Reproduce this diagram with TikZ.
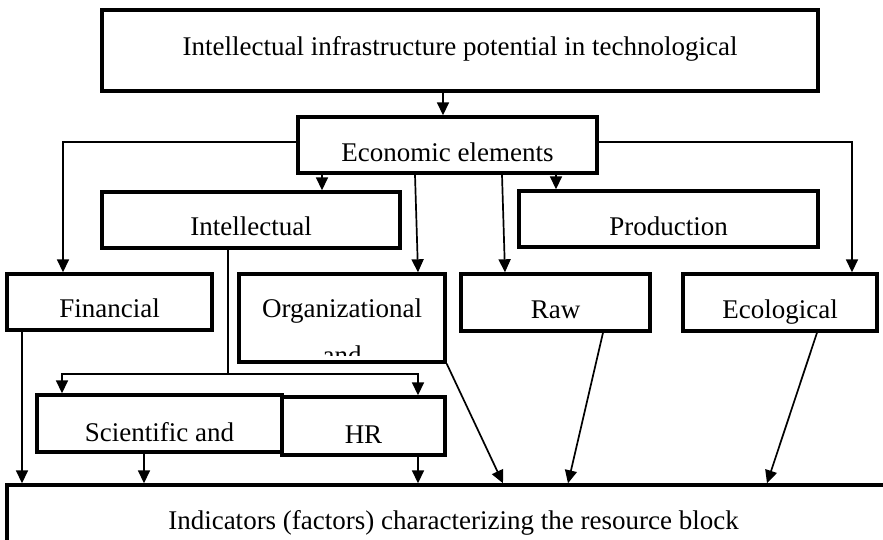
\documentclass[tikz,border=0pt]{standalone}
\usepackage{fontspec}
\setmainfont{Liberation Serif}
\usepackage{tikz}
\usetikzlibrary{arrows.meta}

\begin{document}
\begin{tikzpicture}[
  x=1pt, y=-1pt,
  font=\fontsize{27}{31}\selectfont,
  box/.style={draw, line width=3.4pt, inner sep=0pt},
  tb/.style={text height=#1, text depth=0pt},
  ln/.style={line width=1.7pt},
  arr/.style={ln, -{Triangle[length=13pt, width=12pt]}}
]
\useasboundingbox (0,0) rectangle (883,540);
\fill[white] (0,0) rectangle (883,540);
\clip (0,0) rectangle (883,540);
% boxes
\node[box, minimum width=716pt, minimum height=81pt, tb=11pt] (top) at (460,50.5) {Intellectual infrastructure potential in technological};
\node[box, minimum width=299pt, minimum height=56pt, tb=34pt] (econ) at (447.5,145) {Economic elements};
\node[box, minimum width=298pt, minimum height=56pt, tb=32pt] (intel) at (251,220) {Intellectual};
\node[box, minimum width=299pt, minimum height=56pt, tb=34pt] (prod) at (668.5,219) {Production};
\node[box, minimum width=205pt, minimum height=56pt, tb=30pt] (fin) at (109.5,302) {Financial};
\node[box, minimum width=206pt, minimum height=88pt, text height=0pt, text depth=2pt] (org) at (342,318) {Organizational};
\node[box, minimum width=189pt, minimum height=57pt, tb=31pt] (raw) at (555.5,302.5) {Raw};
\node[box, minimum width=194pt, minimum height=57pt, tb=31pt] (eco) at (780,302.5) {Ecological};
\node[box, minimum width=245pt, minimum height=57pt, tb=35pt] (sci) at (159.5,423.5) {Scientific and};
\node[box, minimum width=163pt, minimum height=58pt, tb=34pt] (hr) at (363.5,426) {HR};
\node[box, minimum width=893pt, minimum height=86pt, tb=2pt] (res) at (453.5,528) {Indicators (factors) characterizing the resource block};
\begin{scope}
  \clip (241,340) rectangle (443,355);
  \node[anchor=base] (organd) at (342,364) {and};
\end{scope}
% connectors
\draw[arr] (top.south -| 443,0) -- (econ.north -| 443,0);
\draw[arr] ([yshift=3pt]econ.west) -| (fin.north -| 63,0);
\draw[arr] ([yshift=3pt]econ.east) -| (eco.north -| 852,0);
\draw[arr] (econ.south -| 322,0) -- (intel.north -| 322,0);
\draw[arr] (econ.south -| 415,0) -- (org.north -| 418,0);
\draw[arr] (econ.south -| 502,0) -- (raw.north -| 505,0);
\draw[arr] (econ.south -| 556,0) -- (prod.north -| 556,0);
\coordinate (split) at (228,374);
\draw[ln] (intel.south -| split) -- (split);
\draw[arr] (split) -| (sci.north -| 62,0);
\draw[arr] (split) -| (hr.north -| 418,0);
\draw[arr] (fin.south -| 22,0) -- (res.north -| 22,0);
\draw[arr] (sci.south -| 144,0) -- (res.north -| 144,0);
\draw[arr] (hr.south -| 418,0) -- (res.north -| 418,0);
\draw[arr] (org.south east) -- (res.north -| 503,0);
\draw[arr] (raw.south -| 603,0) -- (res.north -| 568,0);
\draw[arr] (eco.south -| 817,0) -- (res.north -| 767,0);
\end{tikzpicture}
\end{document}
